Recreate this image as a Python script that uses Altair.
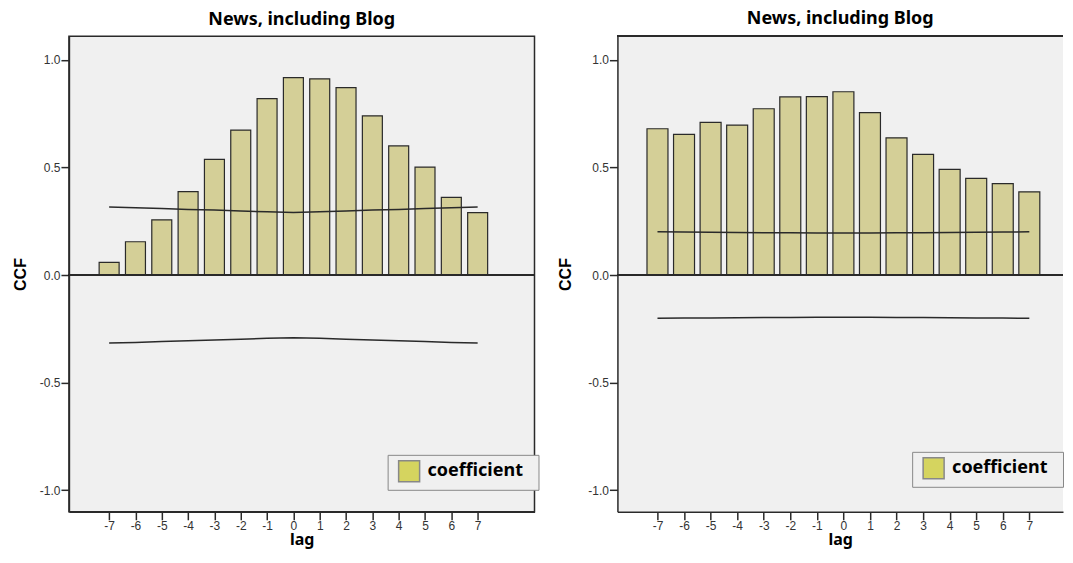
import altair as alt
import pandas as pd

lags = [-7, -6, -5, -4, -3, -2, -1, 0, 1, 2, 3, 4, 5, 6, 7]

left_ccf = [0.059, 0.155, 0.257, 0.388, 0.538, 0.674, 0.820, 0.918, 0.912, 0.871, 0.740, 0.600, 0.502, 0.361, 0.290]
left_upper = [0.316, 0.313, 0.309, 0.305, 0.302, 0.298, 0.294, 0.291, 0.294, 0.298, 0.302, 0.305, 0.309, 0.313, 0.316]
left_lower = [-0.316, -0.313, -0.309, -0.305, -0.302, -0.298, -0.294, -0.291, -0.294, -0.298, -0.302, -0.305, -0.309, -0.313, -0.316]

right_ccf = [0.680, 0.654, 0.710, 0.697, 0.773, 0.828, 0.829, 0.852, 0.755, 0.638, 0.561, 0.491, 0.449, 0.425, 0.387]
right_upper = [0.201, 0.200, 0.199, 0.198, 0.197, 0.197, 0.196, 0.196, 0.196, 0.197, 0.197, 0.198, 0.199, 0.200, 0.201]
right_lower = [-0.201, -0.200, -0.199, -0.198, -0.197, -0.197, -0.196, -0.196, -0.196, -0.197, -0.197, -0.198, -0.199, -0.200, -0.201]

y_ticks = [-1.0, -0.5, 0.0, 0.5, 1.0]
series_name = "coefficient"
title_text = "News, including Blog"

KHAKI = "#D4CF97"
YELLOW = "#D5D45F"
DARK = "#2a2a2a"
BG = "#F0F0F0"
H = 476

XLAB = "datum.value < 0 ? '-' + format(-datum.value, 'd') : format(datum.value, 'd')"
YLAB = "datum.value < 0 ? '-' + format(-datum.value, '.1f') : format(datum.value, '.1f')"


def panel(ccf, upper, lower, width, xdom, barsize, legend_x, legend_y, ytitle_pad, frame):
    df = pd.DataFrame({"lag": lags, "ccf": ccf, "upper": upper, "lower": lower,
                       "series": [series_name] * len(lags)})
    xs = alt.Scale(domain=xdom, nice=False, zero=False)
    ys = alt.Scale(domain=[-1.1, 1.11], nice=False)
    xaxis = alt.Axis(values=lags, tickCount=16, labelExpr=XLAB, title="lag", grid=False, tickSize=8,
                     tickWidth=1.5, tickColor=DARK, domainColor=DARK, domainWidth=1.5,
                     labelFont="Liberation Sans", labelFontSize=12, labelColor="#333", labelPadding=0.5,
                     titleFont="Noto Sans", titleFontSize=16, titleFontWeight="bold", titleColor="black",
                     titlePadding=0, labelFlush=False, labelOverlap=False)
    yaxis = alt.Axis(values=y_ticks, labelExpr=YLAB, title="CCF", grid=False, tickSize=8, tickWidth=1.5,
                     tickColor=DARK, domainColor=DARK, domainWidth=1.5, labelFont="Liberation Sans",
                     labelFontSize=12, labelColor="#333", labelPadding=1, titleFont="Liberation Sans",
                     titleFontSize=16, titleFontWeight="bold", titleColor="black", titlePadding=ytitle_pad,
                     labelFlush=False, labelOverlap=False)
    xenc = alt.X("lag:Q", scale=xs, axis=xaxis)
    base = alt.Chart(df)
    bars = base.mark_bar(size=barsize, fill=KHAKI, stroke=DARK, strokeWidth=1.2).encode(
        x=xenc,
        y=alt.Y("ccf:Q", scale=ys, axis=yaxis),
    )
    zero = base.mark_rule(color=DARK, strokeWidth=1.5).encode(
        y=alt.datum(0), x=alt.value(0), x2=alt.value(width))
    up = base.mark_line(color=DARK, strokeWidth=1.5).encode(x=xenc, y="upper:Q")
    lo = base.mark_line(color=DARK, strokeWidth=1.5).encode(x=xenc, y="lower:Q")
    leg = alt.Chart(df.head(1)).mark_square(size=0, opacity=1).encode(
        x=xenc, y="ccf:Q",
        color=alt.Color("series:N", scale=alt.Scale(range=[YELLOW]),
                        legend=alt.Legend(title="\u2800", titleOrient="right", titleFontSize=15,
                                          titlePadding=0, titleColor=BG,
                                          orient="none", legendX=legend_x, legendY=legend_y,
                                          strokeColor="#888", fillColor=BG, padding=5,
                                          symbolType="square", symbolSize=441, symbolOffset=5,
                                          symbolStrokeColor="#888", symbolStrokeWidth=1.5,
                                          symbolOpacity=1,
                                          labelFont="Noto Sans", labelFontSize=18,
                                          labelFontWeight="bold", labelColor="black",
                                          labelOffset=7)),
    )
    layers = [bars, zero, up, lo, leg]
    if not frame:
        top = base.mark_rule(color=DARK, strokeWidth=1.5).encode(
            y=alt.value(0), x=alt.value(0), x2=alt.value(width))
        layers.append(top)
    view = alt.ViewBackground(fill=BG, stroke=DARK if frame else "transparent", strokeWidth=1.5)
    return alt.layer(*layers).properties(
        width=width, height=H, view=view,
        title=alt.TitleParams(title_text, font="Noto Sans", fontSize=18, fontWeight="bold",
                              color="black", offset=7, anchor="middle", frame="group"),
    ).resolve_scale(color="independent")


left = panel(left_ccf, left_upper, left_lower, 466, [-8.337, 8.97], 20, 319, 419, 11, True)
right = panel(right_ccf, right_upper, right_lower, 446, [-8.32, 8.08], 21, 295, 416, 14, False)

chart = alt.hconcat(left, right, spacing=16).resolve_scale(color="independent").resolve_legend(
    color="independent"
).properties(
    padding={"left": 3, "top": 1, "right": 0, "bottom": 0}
).configure_view(fill=BG)

chart.save("out.html", embed_options={"renderer": "svg", "actions": False})
